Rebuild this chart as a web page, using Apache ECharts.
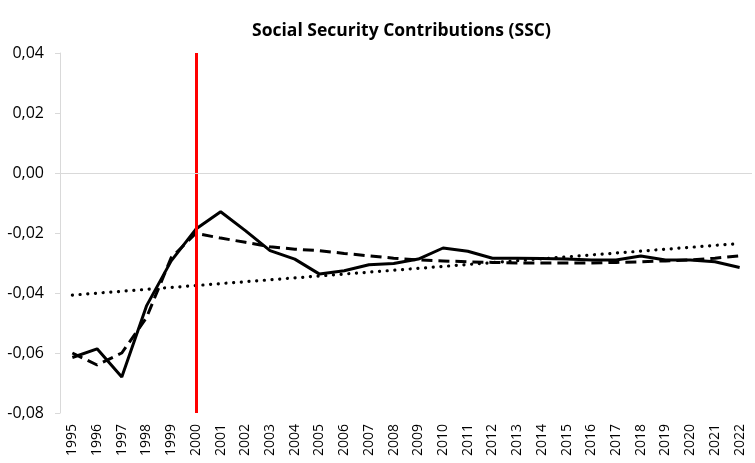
<!DOCTYPE html>
<html>
<head>
<meta charset="utf-8">
<script src="https://cdn.jsdelivr.net/npm/echarts@6/dist/echarts.min.js"></script>
<style>
  html, body { margin: 0; padding: 0; background: #fff; }
  #chart { width: 755px; height: 463px; }
</style>
</head>
<body>
<div id="chart"></div>
<script>
// Years on the horizontal axis
const years = ['1995','1996','1997','1998','1999','2000','2001','2002','2003','2004',
  '2005','2006','2007','2008','2009','2010','2011','2012','2013','2014',
  '2015','2016','2017','2018','2019','2020','2021','2022'];

// Observed SSC effect (solid line)
const sscActual = [-0.0615,-0.0586,-0.068,-0.0443,-0.0293,-0.0187,-0.0129,-0.0192,-0.0259,-0.0287,
  -0.0337,-0.0326,-0.0306,-0.0302,-0.0287,-0.025,-0.0261,-0.0284,-0.0284,-0.0285,
  -0.0287,-0.029,-0.029,-0.0277,-0.029,-0.029,-0.0296,-0.0315];

// Smoothed / fitted path (dashed line)
const sscFitted = [-0.060,-0.064,-0.060,-0.0482,-0.0282,-0.0201,-0.0217,-0.0231,-0.0246,-0.0254,
  -0.0259,-0.0268,-0.0276,-0.0284,-0.029,-0.0293,-0.0296,-0.0298,-0.030,-0.030,
  -0.030,-0.030,-0.0298,-0.0296,-0.0293,-0.029,-0.0284,-0.0276];

// Linear trend endpoints (dotted line), first and last year
const trendStart = -0.0407;
const trendEnd = -0.0235;

// Reform year marked by the red vertical line
const markerYear = '2000';

const trendData = years.map((y, i) =>
  i === 0 ? trendStart : (i === years.length - 1 ? trendEnd : null));

const FONT = 'Open Sans';
const chart = echarts.init(document.getElementById('chart'));
chart.setOption({
  animation: false,
  title: {
    text: 'Social Security Contributions (SSC)',
    left: 247,
    top: 17,
    textStyle: { fontFamily: FONT, fontSize: 17.5, fontWeight: 'bold', color: '#000' }
  },
  grid: { left: 60, right: 3, top: 53, bottom: 50 },
  xAxis: {
    type: 'category',
    data: years,
    boundaryGap: true,
    axisLine: { show: false },
    axisTick: { show: false },
    axisLabel: { rotate: 90, margin: 11, fontFamily: FONT, fontSize: 14, color: '#000' }
  },
  yAxis: {
    type: 'value',
    min: -0.08,
    max: 0.04,
    interval: 0.02,
    axisLine: { show: true, lineStyle: { color: '#d9d9d9', width: 1 } },
    axisTick: { show: true, length: 5, lineStyle: { color: '#d9d9d9' } },
    splitLine: { show: false },
    axisLabel: {
      margin: 16,
      fontFamily: FONT,
      fontSize: 16,
      color: '#000',
      formatter: v => v.toFixed(2).replace('.', ',')
    }
  },
  series: [
    {
      name: 'trend',
      type: 'line',
      data: trendData,
      connectNulls: true,
      symbol: 'none',
      lineStyle: { color: '#000', width: 3.2, type: [0.1, 7.6], cap: 'round' },
      z: 2
    },
    {
      name: 'fitted',
      type: 'line',
      data: sscFitted,
      symbol: 'none',
      lineStyle: { color: '#000', width: 3, type: [11, 6] },
      z: 3
    },
    {
      name: 'actual',
      type: 'line',
      data: sscActual,
      symbol: 'none',
      lineStyle: { color: '#000', width: 3 },
      z: 4,
      markLine: {
        silent: true,
        symbol: 'none',
        label: { show: false },
        data: [
          { xAxis: markerYear, lineStyle: { color: '#ff0000', width: 3, type: 'solid' } },
          { yAxis: 0, lineStyle: { color: '#d9d9d9', width: 1, type: 'solid' } }
        ]
      }
    }
  ]
});
</script>
</body>
</html>
